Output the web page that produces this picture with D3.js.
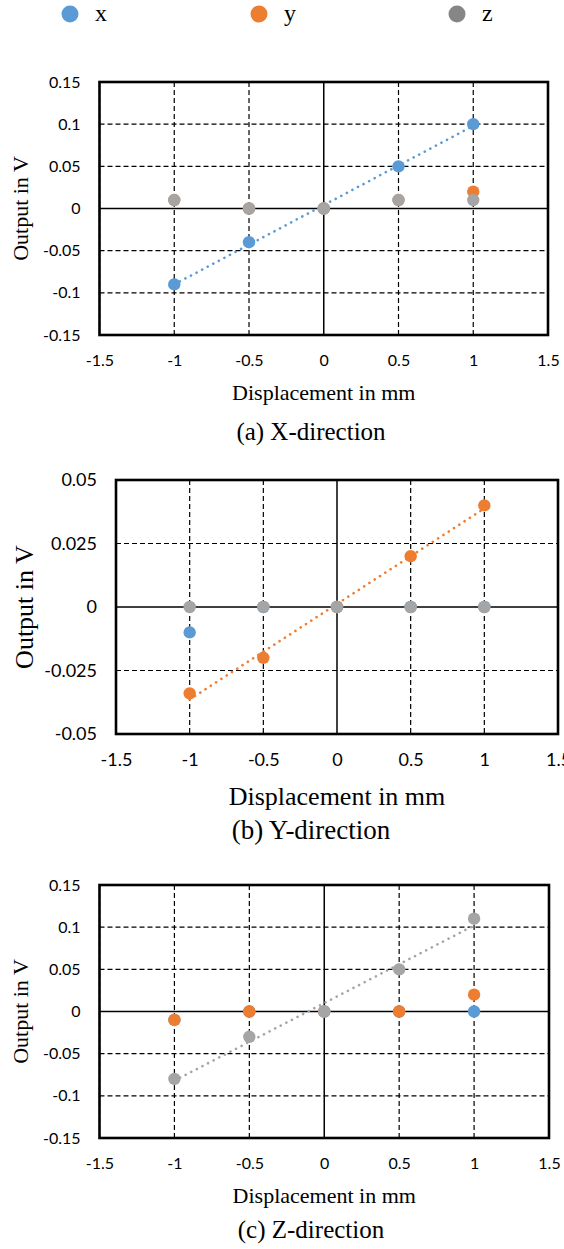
<!DOCTYPE html>
<html>
<head>
<meta charset="utf-8">
<script src="https://cdn.jsdelivr.net/npm/d3@7"></script>
<style>
  body { margin: 0; background: #fff; }
  svg { display: block; }
  .tick-label { font-family: Lato, "Liberation Sans", sans-serif; fill: #000; }
  .serif { font-family: "Liberation Serif", "Times New Roman", serif; fill: #000; }
</style>
</head>
<body>
<div id="chart"></div>
<script>
// series colours (Excel defaults)
var seriesNames = ["x", "y", "z"];
var seriesColors = ["#5b9bd5", "#ed7d31", "#a5a5a5"];
var legendColors = ["#5b9bd5", "#ed7d31", "#868686"];

// displacement values (mm), shared by all panels
var displacement = [-1, -0.5, 0, 0.5, 1];

// (a) X-direction
var aX = [-0.09, -0.04, 0, 0.05, 0.1];
var aY = [0.01, 0, 0, 0.01, 0.02];
var aZ = [0.01, 0, 0, 0.01, 0.01];

// (b) Y-direction
var bX = [-0.01, 0, 0, 0, 0];
var bY = [-0.034, -0.02, 0, 0.02, 0.04];
var bZ = [0, 0, 0, 0, 0];

// (c) Z-direction
var cX = [-0.01, 0, 0, 0, 0];
var cY = [-0.01, 0, 0, 0, 0.02];
var cZ = [-0.08, -0.03, 0, 0.05, 0.11];

// tick labels
var xTicks = [-1.5, -1, -0.5, 0, 0.5, 1, 1.5];
var yTicksWide = [-0.15, -0.1, -0.05, 0, 0.05, 0.1, 0.15];
var yTicksNarrow = [-0.05, -0.025, 0, 0.025, 0.05];

var captions = ["(a) X-direction", "(b) Y-direction", "(c) Z-direction"];

var W = 564, H = 1249;

var svg = d3.select("#chart").append("svg")
    .attr("width", W)
    .attr("height", H);

// legend
var legend = svg.append("g").attr("class", "legend");
var legendX = [70, 259, 457];
legend.selectAll("circle")
    .data(seriesNames)
    .enter()
    .append("circle")
    .attr("cx", function(d, i) { return legendX[i]; })
    .attr("cy", 14)
    .attr("r", 8.5)
    .attr("fill", function(d, i) { return legendColors[i]; });
legend.selectAll("text")
    .data(seriesNames)
    .enter()
    .append("text")
    .attr("class", "serif")
    .attr("x", function(d, i) { return legendX[i] + 25; })
    .attr("y", 21)
    .style("font-size", "24px")
    .text(function(d) { return d; });

// least squares fit, used for the dotted trendline
function linearFit(xs, ys) {
    var mx = d3.mean(xs), my = d3.mean(ys);
    var num = d3.sum(xs, function(x, i) { return (x - mx) * (ys[i] - my); });
    var den = d3.sum(xs, function(x) { return (x - mx) * (x - mx); });
    var slope = num / den;
    return function(x) { return my + slope * (x - mx); };
}

function drawPanel(cfg) {
    var x = d3.scaleLinear().domain([-1.5, 1.5]).range([cfg.left, cfg.right]);
    var y = d3.scaleLinear().domain([cfg.yTicks[0], cfg.yTicks[cfg.yTicks.length - 1]])
        .range([cfg.bottom, cfg.top]);

    var g = svg.append("g");

    // dashed grid
    g.selectAll(".hgrid")
        .data(cfg.yTicks.filter(function(d) { return d !== 0; }))
        .enter().append("line")
        .attr("x1", cfg.left).attr("x2", cfg.right)
        .attr("y1", function(d) { return y(d); })
        .attr("y2", function(d) { return y(d); })
        .attr("stroke", "#000")
        .attr("stroke-width", 1.2)
        .attr("stroke-dasharray", "5,3");
    g.selectAll(".vgrid")
        .data(xTicks.filter(function(d) { return d !== 0; }))
        .enter().append("line")
        .attr("y1", cfg.top).attr("y2", cfg.bottom)
        .attr("x1", function(d) { return x(d); })
        .attr("x2", function(d) { return x(d); })
        .attr("stroke", "#000")
        .attr("stroke-width", 1.2)
        .attr("stroke-dasharray", "5,3");

    // zero lines
    g.append("line")
        .attr("x1", cfg.left).attr("x2", cfg.right)
        .attr("y1", y(0)).attr("y2", y(0))
        .attr("stroke", "#000").attr("stroke-width", 1.5);
    g.append("line")
        .attr("x1", x(0)).attr("x2", x(0))
        .attr("y1", cfg.top).attr("y2", cfg.bottom)
        .attr("stroke", "#000").attr("stroke-width", 1.5);

    // border box
    g.append("rect")
        .attr("x", cfg.left).attr("y", cfg.top)
        .attr("width", cfg.right - cfg.left)
        .attr("height", cfg.bottom - cfg.top)
        .attr("fill", "none")
        .attr("stroke", "#000")
        .attr("stroke-width", 2.6);

    // axes (labels only)
    var xAxis = g.append("g")
        .attr("transform", "translate(0," + cfg.bottom + ")")
        .call(d3.axisBottom(x).tickValues(xTicks).tickSize(0).tickPadding(cfg.xPad)
            .tickFormat(function(d) { return String(d); }));
    var yAxis = g.append("g")
        .attr("transform", "translate(" + cfg.left + ",0)")
        .call(d3.axisLeft(y).tickValues(cfg.yTicks).tickSize(0).tickPadding(cfg.yPad)
            .tickFormat(function(d) { return String(d); }));
    [xAxis, yAxis].forEach(function(a) {
        a.select(".domain").remove();
        a.selectAll("text")
            .attr("class", "tick-label")
            .style("font-size", cfg.tickSize + "px")
            .attr("font-family", null);
    });

    // trendline for the driven direction
    var fit = linearFit(displacement, cfg.series[cfg.trend]);
    g.append("line")
        .attr("x1", x(-1)).attr("y1", y(fit(-1)))
        .attr("x2", x(1)).attr("y2", y(fit(1)))
        .attr("stroke", seriesColors[cfg.trend])
        .attr("stroke-width", 2.6)
        .attr("stroke-linecap", "round")
        .attr("stroke-dasharray", "0.1,6.2");

    // markers: x first, then y, z on top
    cfg.series.forEach(function(vals, si) {
        g.selectAll(".s" + si)
            .data(vals)
            .enter().append("circle")
            .attr("cx", function(d, i) { return x(displacement[i]); })
            .attr("cy", function(d) { return y(d); })
            .attr("r", 6.2)
            .attr("fill", seriesColors[si]);
    });

    // axis titles
    g.append("text")
        .attr("class", "serif")
        .attr("text-anchor", "middle")
        .attr("x", (cfg.left + cfg.right) / 2)
        .attr("y", cfg.xTitleY)
        .style("font-size", cfg.titleSize + "px")
        .text("Displacement in mm");
    g.append("text")
        .attr("class", "serif")
        .attr("text-anchor", "middle")
        .attr("transform", "translate(" + cfg.yTitleX + "," + ((cfg.top + cfg.bottom) / 2) + ") rotate(-90)")
        .style("font-size", cfg.titleSize + "px")
        .text("Output in V");

    // caption
    g.append("text")
        .attr("class", "serif")
        .attr("text-anchor", "middle")
        .attr("x", 311)
        .attr("y", cfg.captionY)
        .style("font-size", cfg.captionSize + "px")
        .text(cfg.caption);
}

drawPanel({
    left: 99.5, right: 548, top: 82, bottom: 335,
    yTicks: yTicksWide, series: [aX, aY, aZ], trend: 0,
    tickSize: 16, xPad: 20, yPad: 19,
    titleSize: 22, xTitleY: 400, yTitleX: 28,
    caption: captions[0], captionY: 440, captionSize: 25
});

drawPanel({
    left: 116, right: 558, top: 480, bottom: 734,
    yTicks: yTicksNarrow, series: [bX, bY, bZ], trend: 1,
    tickSize: 18, xPad: 19, yPad: 19,
    titleSize: 26, xTitleY: 805, yTitleX: 33,
    caption: captions[1], captionY: 839, captionSize: 27
});

drawPanel({
    left: 99.5, right: 549, top: 885, bottom: 1138,
    yTicks: yTicksWide, series: [cX, cY, cZ], trend: 2,
    tickSize: 16, xPad: 20, yPad: 19,
    titleSize: 22, xTitleY: 1203, yTitleX: 28,
    caption: captions[2], captionY: 1238, captionSize: 25
});
</script>
</body>
</html>
